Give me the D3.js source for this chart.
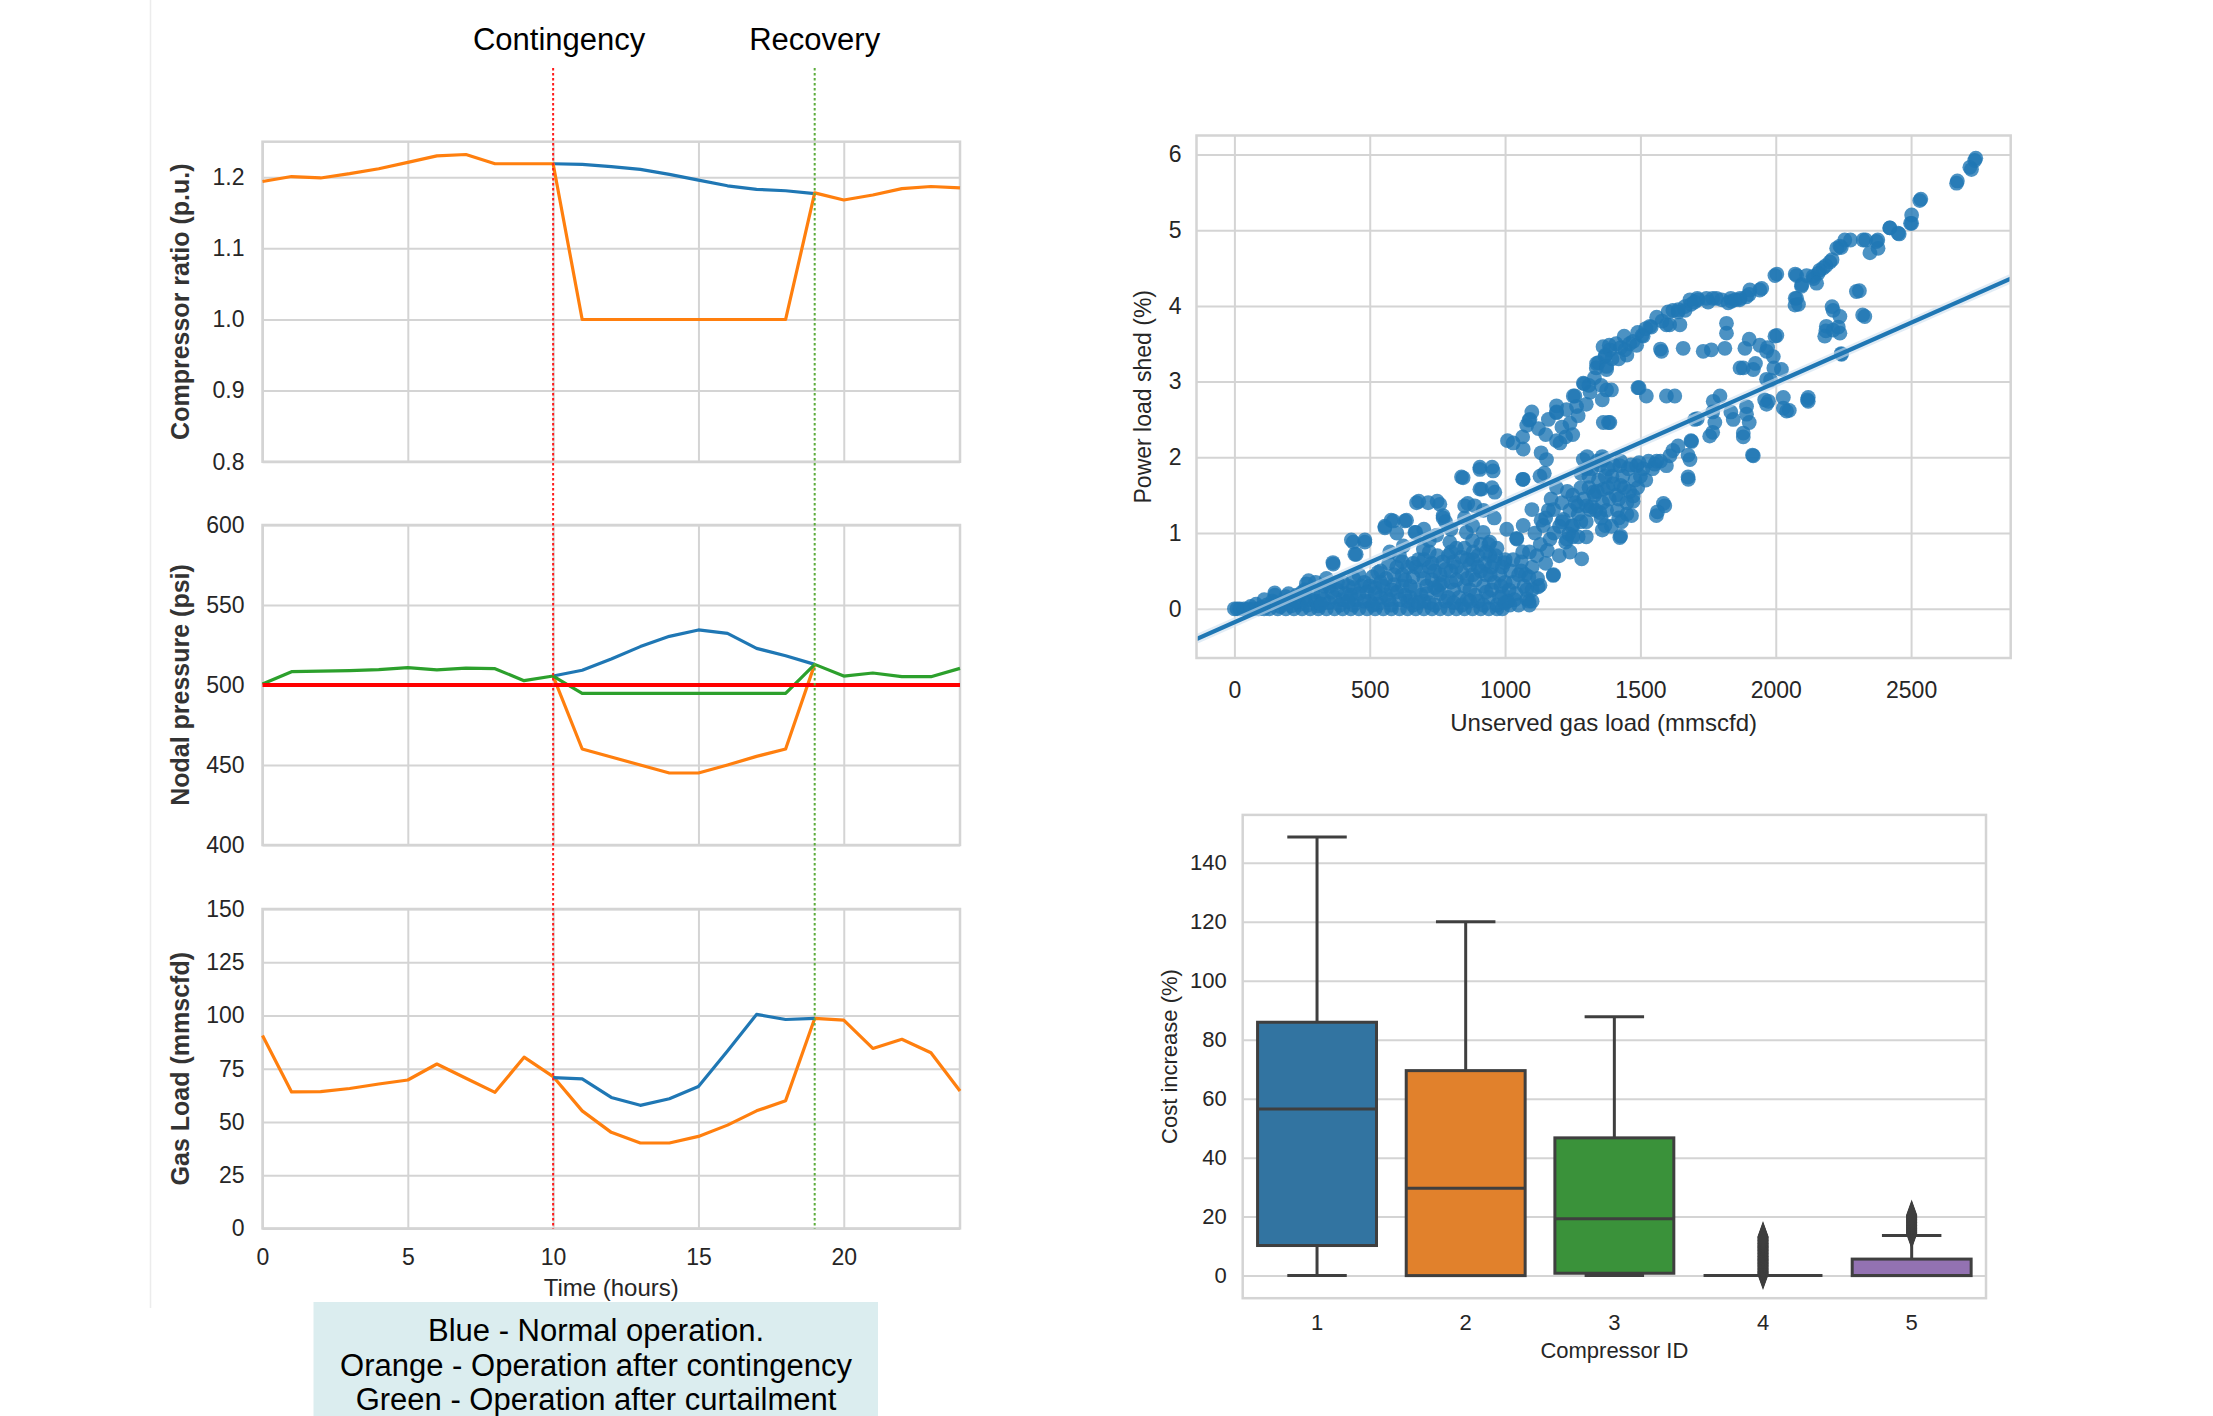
<!DOCTYPE html>
<html>
<head>
<meta charset="utf-8">
<script src="https://cdn.jsdelivr.net/npm/d3@7"></script>
<style>
	body { margin: 0; background: #fff; }
	svg { font-family: "Liberation Sans", Arial, sans-serif; }
</style>
</head>
<body>
<svg id="chart" width="2213" height="1416"></svg>
<script>

// ---- left figure: 24 hour operation ----
var hours = [0,1,2,3,4,5,6,7,8,9,10,11,12,13,14,15,16,17,18,19,20,21,22,23,24]
var eventHours = [10,11,12,13,14,15,16,17,18,19]
var hourTicks = [0,5,10,15,20]
var contingencyHour = 10
var recoveryHour = 19

var ratioContingency = [1.194,1.201,1.199,1.205,1.212,1.221,1.230,1.232,1.219,1.219,1.219,1.0,1.0,1.0,1.0,1.0,1.0,1.0,1.0,1.178,1.168,1.175,1.184,1.187,1.185]
var ratioNormal = [1.219,1.218,1.215,1.211,1.204,1.196,1.188,1.183,1.181,1.177]
var ratioTicks = [0.8,0.9,1.0,1.1,1.2]

var pressureCurtailment = [500.6,508.3,508.7,509.0,509.6,510.8,509.4,510.6,510.2,502.7,505.6,494.8,494.8,494.8,494.8,494.8,494.8,494.8,494.8,512.9,505.6,507.5,505.2,505.2,510.4]
var pressureNormal = [505.6,509.2,516.3,524.0,530.4,534.4,532.3,522.9,518.3,512.9]
var pressureContingency = [505.6,460.0,455.0,450.0,445.0,445.0,450.0,455.4,460.0,512.9]
var pressureLimit = 500
var pressureTicks = [400,450,500,550,600]

var loadContingency = [90.6,64.1,64.2,65.7,67.8,69.7,77.2,70.5,63.9,80.4,71.3,55.2,45.1,40.1,40.1,43.2,48.5,55.2,60.0,98.6,97.8,84.5,88.8,82.5,64.5]
var loadNormal = [70.8,70.2,61.5,57.8,60.9,66.6,83.3,100.5,98.1,98.6]
var loadTicks = [0,25,50,75,100,125,150]

var legendLines = ["Blue - Normal operation.", "Orange - Operation after contingency", "Green - Operation after curtailment"]

// ---- scatter: unserved gas load vs power load shed ----
var gasShedPoints = [
	// upper branch
	[2735,5.92],[2717,5.83],[2723,5.80],[2739,5.95],[2668,5.62],[2671,5.65],[2536,5.41],[2532,5.39],[2502,5.20],[2498,5.09],[2502,5.09],
	[2421,5.03],[2422,5.03],[2452,4.96],[2456,4.95],[2372,4.85],[2378,4.76],[2348,4.70],[2323,4.87],[2332,4.87],[2377,4.87],[2276,4.87],
	[2255,4.87],[2237,4.79],[2242,4.77],[2225,4.76],[2208,4.61],[2200,4.58],[2185,4.53],[2175,4.50],[2162,4.47],[2157,4.43],[2140,4.36],
	[2138,4.39],[2114,4.40],[2077,4.40],[2072,4.42],[2004,4.42],[1997,4.40],[2096,4.28],[2095,4.26],[2151,4.30],[2077,4.10],[2072,4.10],
	[2071,4.01],[2084,4.02],[1948,4.23],[1941,4.21],[1904,4.21],[1902,4.15],[1892,4.12],[1867,4.08],[1868,4.10],[1836,4.06],[1834,4.10],
	[1824,4.04],[1781,4.10],[1767,4.10],[1744,4.10],[1713,4.08],[1710,4.10],[1683,4.08],[1687,4.02],[1664,3.99],[1665,3.94],[1639,3.92],
	[1620,3.94],[1602,3.92],[1608,3.75],[1596,3.75],[1646,3.75],[1540,3.72],[1535,3.73],[1510,3.60],[1506,3.61],[1486,3.48],[1473,3.53],
	[1443,3.42],[1427,3.45],[1450,3.35],[1387,3.42],[1385,3.48],[1371,3.35],[1369,3.33],[1362,3.46],[1338,3.24],[1337,3.18],[1314,2.86],
	[1292,2.97],[1289,2.98],[1258,2.81],[1252,2.81],[1264,2.67],[1227,2.63],[1190,2.68],[1190,2.59],[1190,2.60],[1224,2.27],[1190,2.22],
	[1203,2.19],[1133,2.06],[1123,2.38],[1099,2.60],[1092,2.50],[1088,2.49],[1080,2.42],[1065,2.27],[1067,2.11],[1030,2.19],[1009,2.22],
	[1240,2.45],[1270,2.55],[1300,2.70],[1310,2.95],[1330,3.05],[1345,3.25],[1355,2.95],[1375,3.20],[1395,3.30],[1410,3.50],[1420,3.30],
	[1440,3.60],[1460,3.50],[1490,3.65],[1520,3.70],[1560,3.85],[1580,3.80],[1640,3.95],[1700,4.05],[1750,4.05],[1800,4.08],[1850,4.08],
	[1150,2.30],[1160,2.50],[1210,2.40],[1250,2.30],
	// scattered middle
	[2298,4.19],[2309,4.20],[2329,3.86],[2321,3.88],[2212,3.94],[2208,3.99],[2237,3.86],[2231,3.72],[2187,3.73],[2185,3.67],[2212,3.68],
	[2237,3.64],[2181,3.60],[2242,3.37],[2243,3.36],[1818,3.77],[1818,3.64],[1578,3.40],[1574,3.43],[1658,3.44],[1732,3.40],[1762,3.42],
	[1812,3.44],[1886,3.44],[1941,3.48],[1902,3.56],[1997,3.60],[2004,3.61],[1966,3.40],[1970,3.45],[1991,3.33],[1880,3.18],[1868,3.18],
	[1917,3.16],[1925,3.24],[2021,3.16],[1993,3.18],[1966,3.03],[1981,3.02],[2120,2.79],[2117,2.76],[2120,2.74],[2028,2.79],[2050,2.62],
	[2040,2.61],[2028,2.65],[1973,2.74],[1966,2.70],[1959,2.76],[1892,2.67],[1892,2.57],[1794,2.81],[1769,2.74],[1627,2.81],[1596,2.81],
	[1522,2.81],[1491,2.92],[1495,2.92],[1393,2.89],[1375,3.16],[1375,2.89],[1359,2.76],[1382,2.46],[1387,2.46],[1363,2.46],
	// lower branch
	[1880,2.32],[1880,2.27],[1843,2.50],[1834,2.60],[1902,2.46],[1917,2.02],[1914,2.03],[1756,2.28],[1767,2.33],[1775,2.46],[1767,2.60],
	[1710,2.51],[1701,2.50],[1689,2.21],[1687,2.22],[1683,1.97],[1676,2.03],[1639,2.15],[1620,2.09],[1609,2.02],[1596,1.89],[1574,1.95],
	[1553,1.91],[1495,1.93],[1486,1.89],[1427,1.95],[1424,1.89],[1359,2.01],[1363,1.97],[1303,2.01],[1289,1.97],[1280,1.79],[1676,1.74],
	[1677,1.71],[1590,1.36],[1585,1.39],[1563,1.28],[1559,1.23],[1473,1.49],[1473,1.42],[1467,1.23],[1450,1.25],[1427,1.63],[1427,0.96],
	[1424,0.94],[1393,1.09],[1363,1.58],[1369,1.10],[1359,1.04],[1350,1.27],[1326,1.54],[1314,1.31],[1301,1.36],[1269,1.36],[1252,1.10],
	[1246,1.09],[1235,0.99],[1224,0.88],[1227,0.92],[1215,1.18],[1201,1.09],[1179,1.31],[1166,0.92],[1153,1.97],[1145,1.79],[1141,1.10],
	[1133,1.17],[1129,1.75],[1099,1.31],[1067,1.71],[1065,1.71],[1067,1.10],[1043,0.92],[1043,0.93],[1006,1.05],[1065,0.75],[1117,0.70],
	[1156,0.77],[1283,0.66],[1178,0.44],[1179,0.45],[1129,0.31],[1122,0.29],[1088,0.42],[1088,0.10],[1080,0.13],[1018,0.05],[998,0.61],
	[1290,1.45],[1310,1.60],[1330,1.50],[1345,1.70],[1360,1.40],[1380,1.60],[1395,1.75],[1410,1.50],[1440,1.60],[1455,1.85],[1400,1.90],
	[1320,1.85],[1270,1.25],[1240,1.30],[1300,1.15],[1335,1.30],[1375,1.30],[1415,1.30],[1350,1.90],[1420,1.20],[1480,1.70],[1510,1.85],
	[1530,1.95],[1460,1.55],[1100,0.55],[1150,0.60],[1200,0.70],[1240,0.75],[1130,0.85],[1180,1.00],[1210,1.40],[1250,1.50],[1160,1.30],
	[1110,1.00],[1050,0.45],[1030,0.65],[1070,0.30],[1015,0.25],[1270,0.95],
	[1150,1.20],[1170,1.45],[1190,1.60],[1210,1.15],[1230,1.55],[1260,1.40],[1280,1.60],[1300,1.85],[1320,1.35],[1340,1.55],[1355,1.20],
	[1370,1.75],[1385,1.45],[1400,1.65],[1420,1.45],[1435,1.75],[1450,1.40],[1465,1.90],[1490,1.60],[1500,1.75],[1520,1.70],[1545,1.85],
	[1560,1.95],[1340,1.95],[1280,1.15],[1250,0.95],[1300,0.95],[1380,1.85],[1430,1.15],[1310,1.75],
	// upper edge of the low cluster
	[149,0.21],[150,0.18],[266,0.33],[274,0.37],[364,0.61],[365,0.59],[432,0.91],[439,0.88],[482,0.88],[482,0.91],[445,0.72],[450,0.72],
	[556,1.07],[556,1.09],[579,1.17],[587,1.16],[630,1.16],[636,1.17],[667,1.01],[670,1.01],[673,1.40],[681,1.42],[716,1.40],[749,1.42],
	[759,1.38],[771,1.20],[771,1.23],[839,1.74],[845,1.73],[851,1.36],[862,1.39],[888,1.36],[907,1.84],[907,1.87],[952,1.87],[956,1.82],
	[913,1.58],[907,1.58],[952,1.60],[962,1.54],[857,1.01],[919,1.01],[944,0.88],[944,0.70],[882,0.75],[796,0.88],[747,0.97],[698,0.79],
	[624,0.83],[574,0.75],[600,1.00],[700,1.05],[720,0.90],[800,1.05],[850,1.20],[920,1.30],[960,1.20],[880,1.10],[780,1.15],
	// zero row
	[0,0],[10,0],[20,0],[35,0],[50,0],[70,0],[90,0],[110,0],[130,0],[160,0],[190,0],[220,0],[250,0],[280,0],[310,0],[340,0],[370,0],
	[400,0],[430,0],[460,0],[490,0],[520,0],[550,0],[580,0],[610,0],[640,0],[670,0],[700,0],[730,0],[760,0],[790,0],[820,0],[850,0],
	[880,0],[910,0],[940,0],[970,0],[990,0],
	// dense low cluster
	[120,0.05],[180,0.08],[200,0.12],[240,0.06],[260,0.15],[300,0.10],[320,0.20],[350,0.08],[380,0.25],[400,0.12],[420,0.30],[440,0.05],
	[460,0.20],[480,0.35],[500,0.10],[520,0.28],[540,0.15],[560,0.40],[580,0.05],[600,0.22],[620,0.45],[640,0.10],[650,0.30],[670,0.55],
	[690,0.18],[700,0.40],[720,0.08],[730,0.60],[750,0.25],[760,0.45],[780,0.10],[790,0.70],[800,0.35],[820,0.55],[830,0.15],[850,0.80],
	[860,0.40],[870,0.25],[880,0.65],[900,0.10],[910,0.50],[920,0.30],[930,0.75],[940,0.15],[950,0.55],[960,0.35],[970,0.05],[980,0.45],
	[990,0.20],[1000,0.65],[1010,0.10],[1030,0.35],[1050,0.05],[1060,0.50],[1080,0.25],[1100,0.10],[1090,0.75],[1120,0.40],
	[570,0.60],[590,0.32],[610,0.70],[630,0.18],[660,0.42],[680,0.65],[710,0.30],[740,0.50],[770,0.62],[810,0.25],[840,0.48],[870,0.58],
	[890,0.38],[925,0.60],[945,0.45],[965,0.70],[985,0.30],[540,0.50],[600,0.55],[720,0.75],[760,0.20],[800,0.50],[820,0.80],[860,0.12],
	[900,0.70],[940,0.85],[700,0.10],[650,0.15],[500,0.30],[460,0.45],[430,0.18],[400,0.35],[370,0.15],[330,0.30],[280,0.12],[230,0.18],
	[340,0.40],[300,0.35],
	[60,0.03],[80,0.06],[100,0.02],[140,0.10],[170,0.03],[210,0.04],[230,0.10],[270,0.05],[290,0.22],[310,0.04],[330,0.12],[360,0.22],
	[390,0.05],[410,0.20],[450,0.12],[470,0.30],[490,0.22],[510,0.42],[530,0.06],[550,0.30],[560,0.18],[590,0.45],[610,0.12],[620,0.30],
	[640,0.55],[660,0.05],[670,0.25],[690,0.50],[700,0.65],[710,0.20],[730,0.38],[740,0.05],[750,0.70],[770,0.35],[780,0.52],[790,0.15],
	[810,0.62],[820,0.38],[840,0.05],[850,0.30],[860,0.65],[880,0.45],[890,0.18],[900,0.55],[910,0.85],[920,0.05],[930,0.45],[950,0.25],
	[960,0.62],[970,0.80],[980,0.15],[990,0.55],[1000,0.35],[1020,0.50],[1040,0.20],[1060,0.62],[1075,0.45],[1090,0.05],[580,0.25],
	[620,0.62],[660,0.60],[720,0.55],[760,0.32],[800,0.75],[840,0.68],[880,0.90],[540,0.35],[520,0.20],[480,0.10],[440,0.28],[380,0.35],
	[350,0.30],[260,0.25],[200,0.20],[150,0.08],
	[110,0.12],[190,0.16],[250,0.22],[320,0.06],[420,0.10],[440,0.40],[510,0.05],[530,0.48],[570,0.12],[630,0.38],[680,0.08],[740,0.28],
	[810,0.08],[870,0.10],[930,0.22],[1000,0.08],[1035,0.12],[1100,0.25]
]
// fitted regression line, read at the axes edges
var regressionEnds = [[-140,-0.40],[2868,4.36]]
var gasTicks = [0,500,1000,1500,2000,2500]
var shedTicks = [0,1,2,3,4,5,6]

// ---- box plot: cost increase by compressor ----
var compressorIds = ["1","2","3","4","5"]
var costLow = [0,0,0,0,0]
var costQ1 = [10.2,0,0.8,0,0]
var costMedian = [56.5,29.6,19.3,0,0]
var costQ3 = [85.9,69.5,46.7,0,5.6]
var costHigh = [148.7,120.0,87.8,0,13.6]
var costFliers = [[],[],[],
	[0.4,0.8,1.1,1.5,1.9,2.2,2.6,3.0,3.3,3.7,4.1,4.4,4.8,5.2,5.5,5.9,6.3,6.6,7.0,7.4,7.7,8.1,8.5,8.8,9.2,9.6,9.9,10.3,10.7,11.0,11.4,11.8,12.1,12.5,12.9,13.2],
	[14.2,14.6,14.9,15.3,15.7,16.0,16.4,16.8,17.1,17.5,17.9,18.2,18.6,19.0,19.3,19.7,20.1,20.5]]
var boxColours = ["#3274a1","#e1812c","#3a923a","#c03d3e","#9372b2"]
var costTicks = [0,20,40,60,80,100,120,140]


var svg = d3.select("#chart")
var gridColour = "#d4d4d4"
var textColour = "#262626"
var fontStack = "Liberation Sans, Arial, sans-serif"

function styleAxis(g, size) {
	g.attr("font-size", size).attr("font-family", fontStack)
	g.select(".domain").remove()
	g.selectAll(".tick line").attr("stroke", gridColour).attr("stroke-width", 2)
	g.selectAll(".tick text").attr("fill", textColour)
}

function frame(x0, y0, x1, y1) {
	svg.append("rect")
		.attr("x", x0).attr("y", y0)
		.attr("width", x1 - x0).attr("height", y1 - y0)
		.attr("fill", "none")
		.attr("stroke", gridColour)
		.attr("stroke-width", 2.5)
}

// faint edge of the left figure
svg.append("line")
	.attr("x1", 150.5).attr("x2", 150.5)
	.attr("y1", 0).attr("y2", 1308)
	.attr("stroke", "#ececec").attr("stroke-width", 1.5)

var timeScale = d3.scaleLinear().domain([0, 24]).range([262.5, 960])

function drawTimePanel(top, bottom, domain, ticks, format, title, showX) {
	var y = d3.scaleLinear().domain(domain).range([bottom, top])
	var w = timeScale.range()[1] - timeScale.range()[0]

	var xg = svg.append("g")
		.attr("transform", "translate(0," + bottom + ")")
		.call(d3.axisBottom(timeScale).tickValues(hourTicks)
			.tickSize(-(bottom - top)).tickPadding(20)
			.tickFormat(showX ? d3.format("d") : ""))
	styleAxis(xg, 23)

	var yg = svg.append("g")
		.attr("transform", "translate(" + timeScale.range()[0] + ",0)")
		.call(d3.axisLeft(y).tickValues(ticks).tickSize(-w).tickPadding(18).tickFormat(format))
	styleAxis(yg, 23)

	frame(timeScale.range()[0], top, timeScale.range()[1], bottom)

	svg.append("text")
		.attr("transform", "translate(189," + (top + bottom) / 2 + ") rotate(-90)")
		.attr("text-anchor", "middle")
		.attr("font-size", 25)
		.attr("font-weight", "bold")
		.attr("fill", "#333")
		.text(title)

	return y
}

function drawSeries(y, xs, values, colour, width) {
	var line = d3.line()
		.x(function(d, i) { return timeScale(xs[i]) })
		.y(function(d) { return y(d) })
	svg.append("path")
		.datum(values)
		.attr("d", line)
		.attr("fill", "none")
		.attr("stroke", colour)
		.attr("stroke-width", width)
		.attr("stroke-linejoin", "round")
}

var blue = "#1f77b4", orange = "#ff7f0e", green = "#2ca02c"

var yRatio = drawTimePanel(141.7, 461.7, [0.8, 1.25], ratioTicks, d3.format(".1f"), "Compressor ratio (p.u.)", false)
drawSeries(yRatio, eventHours, ratioNormal, blue, 3.2)
drawSeries(yRatio, hours, ratioContingency, orange, 3.2)

var yPressure = drawTimePanel(525, 845, [400, 600], pressureTicks, d3.format("d"), "Nodal pressure (psi)", false)
drawSeries(yPressure, eventHours, pressureNormal, blue, 3.2)
drawSeries(yPressure, eventHours, pressureContingency, orange, 3.2)
drawSeries(yPressure, hours, pressureCurtailment, green, 3.2)
svg.append("line")
	.attr("x1", timeScale(0)).attr("x2", timeScale(24))
	.attr("y1", yPressure(pressureLimit)).attr("y2", yPressure(pressureLimit))
	.attr("stroke", "#ff0000").attr("stroke-width", 3.8)

var yLoad = drawTimePanel(909, 1228.4, [0, 150], loadTicks, d3.format("d"), "Gas Load (mmscfd)", true)
drawSeries(yLoad, hours, loadContingency, orange, 3.2)
drawSeries(yLoad, eventHours, loadNormal, blue, 3.2)

svg.append("text")
	.attr("x", (timeScale.range()[0] + timeScale.range()[1]) / 2)
	.attr("y", 1296)
	.attr("text-anchor", "middle")
	.attr("font-size", 24)
	.attr("fill", textColour)
	.text("Time (hours)")

// event markers
var events = [[contingencyHour, "#ff1a1a", "Contingency"], [recoveryHour, "#5cad3c", "Recovery"]]
svg.selectAll(".event_line").data(events).enter()
	.append("line")
	.attr("x1", function(d) { return timeScale(d[0]) })
	.attr("x2", function(d) { return timeScale(d[0]) })
	.attr("y1", 68).attr("y2", 1228.4)
	.attr("stroke", function(d) { return d[1] })
	.attr("stroke-width", 2)
	.attr("stroke-dasharray", "2.5,2.5")

svg.selectAll(".event_text").data(events).enter()
	.append("text")
	.attr("x", function(d, i) { return timeScale(d[0]) + (i == 0 ? 6 : 0) })
	.attr("y", 50)
	.attr("text-anchor", "middle")
	.attr("font-size", 31)
	.attr("fill", "#000")
	.text(function(d) { return d[2] })

// colour key box under the left figure
svg.append("rect")
	.attr("x", 313.5).attr("y", 1302)
	.attr("width", 564.5).attr("height", 130)
	.attr("fill", "#dbedef")
svg.selectAll(".legend_text").data(legendLines).enter()
	.append("text")
	.attr("x", 596)
	.attr("y", function(d, i) { return 1341 + i * 34.5 })
	.attr("text-anchor", "middle")
	.attr("font-size", 31)
	.attr("fill", "#000")
	.text(function(d) { return d })


// ---- scatter ----
var sx = d3.scaleLinear().domain([-140, 2868]).range([1196.5, 2010.7])
var sy = d3.scaleLinear().domain([-0.65, 6.25]).range([658, 135.5])

var sxg = svg.append("g")
	.attr("transform", "translate(0," + sy.range()[0] + ")")
	.call(d3.axisBottom(sx).tickValues(gasTicks).tickSize(-(sy.range()[0] - sy.range()[1])).tickPadding(24).tickFormat(d3.format("d")))
styleAxis(sxg, 23)
var syg = svg.append("g")
	.attr("transform", "translate(" + sx.range()[0] + ",0)")
	.call(d3.axisLeft(sy).tickValues(shedTicks).tickSize(-(sx.range()[1] - sx.range()[0])).tickPadding(15).tickFormat(d3.format("d")))
styleAxis(syg, 23)

svg.append("clipPath").attr("id", "scatter_clip")
	.append("rect")
	.attr("x", sx.range()[0]).attr("y", sy.range()[1])
	.attr("width", sx.range()[1] - sx.range()[0])
	.attr("height", sy.range()[0] - sy.range()[1])

var scatter_g = svg.append("g").attr("clip-path", "url(#scatter_clip)")
scatter_g.selectAll(".shed_points")
	.data(gasShedPoints)
	.enter()
	.append("circle")
	.attr("cx", function(d) { return sx(d[0]) })
	.attr("cy", function(d) { return sy(d[1]) })
	.attr("r", 7.4)
	.attr("fill", blue)
	.attr("fill-opacity", 0.8)

scatter_g.append("path")
	.datum(regressionEnds)
	.attr("d", d3.line().x(function(d) { return sx(d[0]) }).y(function(d) { return sy(d[1]) }))
	.attr("stroke", "#cfe0ee")
	.attr("stroke-width", 9)
	.attr("stroke-opacity", 0.6)
scatter_g.append("path")
	.datum(regressionEnds)
	.attr("d", d3.line().x(function(d) { return sx(d[0]) }).y(function(d) { return sy(d[1]) }))
	.attr("stroke", blue)
	.attr("stroke-width", 4.2)

frame(sx.range()[0], sy.range()[1], sx.range()[1], sy.range()[0])

svg.append("text")
	.attr("x", (sx.range()[0] + sx.range()[1]) / 2)
	.attr("y", 731)
	.attr("text-anchor", "middle")
	.attr("font-size", 24)
	.attr("fill", textColour)
	.text("Unserved gas load (mmscfd)")
svg.append("text")
	.attr("transform", "translate(1151," + (sy.range()[0] + sy.range()[1]) / 2 + ") rotate(-90)")
	.attr("text-anchor", "middle")
	.attr("font-size", 23)
	.attr("fill", textColour)
	.text("Power load shed (%)")


// ---- box plot ----
var bx = d3.scaleBand().domain(compressorIds).range([1242.7, 1986])
var by = d3.scaleLinear().domain([-7.66, 156.2]).range([1298.2, 814.9])
var boxW = bx.bandwidth() * 0.8
var edge = "#3f3f3f"

var byg = svg.append("g")
	.attr("transform", "translate(" + bx.range()[0] + ",0)")
	.call(d3.axisLeft(by).tickValues(costTicks).tickSize(-(bx.range()[1] - bx.range()[0])).tickPadding(16).tickFormat(d3.format("d")))
styleAxis(byg, 22)
var bxg = svg.append("g")
	.attr("transform", "translate(0," + by.range()[0] + ")")
	.call(d3.axisBottom(bx).tickSize(0).tickPadding(16))
styleAxis(bxg, 22)

frame(bx.range()[0], by.range()[1], bx.range()[1], by.range()[0])

var boxes = compressorIds.map(function(id, i) {
	return {id: id, low: costLow[i], q1: costQ1[i], med: costMedian[i], q3: costQ3[i], high: costHigh[i], fliers: costFliers[i], colour: boxColours[i]}
})

var box_g = svg.selectAll(".cost_box").data(boxes).enter()
	.append("g")
	.attr("transform", function(d) { return "translate(" + (bx(d.id) + bx.bandwidth() / 2) + ",0)" })

// whiskers
box_g.append("line")
	.attr("x1", 0).attr("x2", 0)
	.attr("y1", function(d) { return by(d.q3) }).attr("y2", function(d) { return by(d.high) })
	.attr("stroke", edge).attr("stroke-width", 3)
box_g.append("line")
	.attr("x1", 0).attr("x2", 0)
	.attr("y1", function(d) { return by(d.q1) }).attr("y2", function(d) { return by(d.low) })
	.attr("stroke", edge).attr("stroke-width", 3)
box_g.append("line")
	.attr("x1", -boxW / 4).attr("x2", boxW / 4)
	.attr("y1", function(d) { return by(d.high) }).attr("y2", function(d) { return by(d.high) })
	.attr("stroke", edge).attr("stroke-width", 3)
box_g.append("line")
	.attr("x1", -boxW / 4).attr("x2", boxW / 4)
	.attr("y1", function(d) { return by(d.low) }).attr("y2", function(d) { return by(d.low) })
	.attr("stroke", edge).attr("stroke-width", 3)

box_g.append("rect")
	.attr("x", -boxW / 2)
	.attr("y", function(d) { return by(d.q3) })
	.attr("width", boxW)
	.attr("height", function(d) { return by(d.q1) - by(d.q3) })
	.attr("fill", function(d) { return d.colour })
	.attr("stroke", edge).attr("stroke-width", 3)

box_g.append("line")
	.attr("x1", -boxW / 2).attr("x2", boxW / 2)
	.attr("y1", function(d) { return by(d.med) }).attr("y2", function(d) { return by(d.med) })
	.attr("stroke", edge).attr("stroke-width", 3)

var diamond = d3.symbol().type(d3.symbolDiamond).size(230)
box_g.selectAll(".flier")
	.data(function(d) { return d.fliers })
	.enter()
	.append("path")
	.attr("d", diamond)
	.attr("transform", function(d) { return "translate(0," + by(d) + ") scale(0.62,1)" })
	.attr("fill", edge)
	.attr("stroke", edge)
	.attr("stroke-width", 1.5)

svg.append("text")
	.attr("x", (bx.range()[0] + bx.range()[1]) / 2)
	.attr("y", 1358)
	.attr("text-anchor", "middle")
	.attr("font-size", 22)
	.attr("fill", textColour)
	.text("Compressor ID")
svg.append("text")
	.attr("transform", "translate(1177," + (by.range()[0] + by.range()[1]) / 2 + ") rotate(-90)")
	.attr("text-anchor", "middle")
	.attr("font-size", 22)
	.attr("fill", textColour)
	.text("Cost increase (%)")

</script>
</body>
</html>
